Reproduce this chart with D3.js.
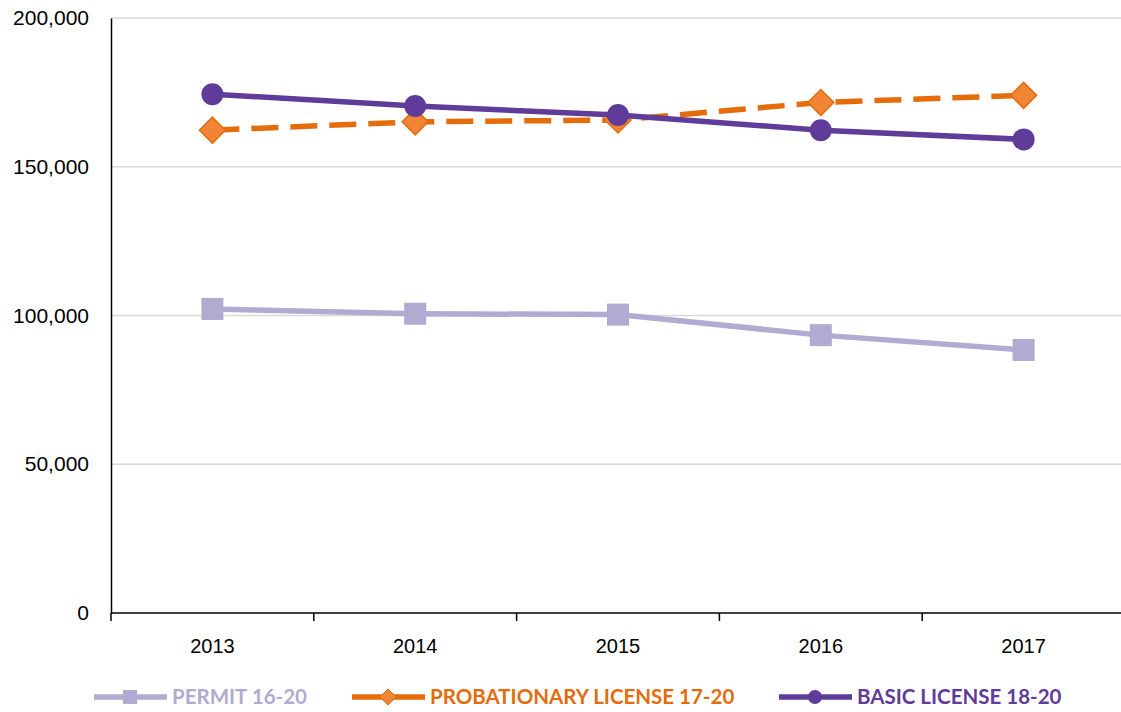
<!DOCTYPE html>
<html>
<head>
<meta charset="utf-8">
<script src="https://cdn.jsdelivr.net/npm/d3@7"></script>
<style>
  body { margin: 0; background: #fff; }
  svg { display: block; font-family: Lato, "Open Sans", sans-serif; }
</style>
</head>
<body>
<div id="chart"></div>
<script>
var years = ["2013", "2014", "2015", "2016", "2017"];
var permit = [102200, 100600, 100300, 93400, 88400];
var probationary = [162300, 165100, 165700, 171600, 174000];
var basic = [174400, 170400, 167400, 162300, 159200];
var yTicks = [0, 50000, 100000, 150000, 200000];

var width = 1121, height = 712;
var margin = { top: 18, right: -4, bottom: 99, left: 111 };

var svg = d3.select("#chart")
    .append("svg")
    .attr("width", width)
    .attr("height", height);

var x = d3.scaleBand()
    .domain(years)
    .range([margin.left, width - margin.right]);

var y = d3.scaleLinear()
    .domain([0, 200000])
    .range([height - margin.bottom, margin.top]);

var fmt = d3.format(",");

// gridlines
svg.append("g")
    .selectAll("line")
    .data(yTicks.filter(function (d) { return d > 0; }))
    .enter()
    .append("line")
    .attr("x1", margin.left)
    .attr("x2", width)
    .attr("y1", function (d) { return y(d); })
    .attr("y2", function (d) { return y(d); })
    .style("stroke", "#d9d9d9")
    .style("stroke-width", 1.5);

// y axis
var yaxis = svg.append("g")
    .attr("transform", "translate(" + margin.left + ",0)")
    .call(d3.axisLeft(y).tickValues(yTicks).tickFormat(fmt).tickSize(0).tickPadding(22));
yaxis.select(".domain").style("stroke", "#000").style("stroke-width", 1.5);
yaxis.selectAll("text").style("font-size", "21px").style("fill", "#000");

// x axis
var xaxis = svg.append("g")
    .attr("transform", "translate(0," + y(0) + ")")
    .call(d3.axisBottom(x).tickSize(0).tickPadding(26));
xaxis.select(".domain").attr("d", "M" + margin.left + ",0H" + width)
    .style("stroke", "#000").style("stroke-width", 1.5);
xaxis.selectAll("text").style("font-size", "20px").style("fill", "#000");
// tick marks at band boundaries
xaxis.selectAll(".bound")
    .data(years)
    .enter()
    .append("line")
    .attr("class", "bound")
    .attr("x1", function (d) { return x(d); })
    .attr("x2", function (d) { return x(d); })
    .attr("y1", 0)
    .attr("y2", 8)
    .style("stroke", "#000")
    .style("stroke-width", 1.5);

var cx = function (i) { return x(years[i]) + x.bandwidth() / 2; };

var line = d3.line()
    .x(function (d, i) { return cx(i); })
    .y(function (d) { return y(d); });

// permit series
svg.append("path")
    .datum(permit)
    .attr("d", line)
    .style("fill", "none")
    .style("stroke", "#b1aad1")
    .style("stroke-width", 5.5);
svg.append("g").selectAll("rect")
    .data(permit)
    .enter()
    .append("rect")
    .attr("x", function (d, i) { return cx(i) - 11; })
    .attr("y", function (d) { return y(d) - 11; })
    .attr("width", 22)
    .attr("height", 22)
    .style("fill", "#b1aad1");

// probationary series
svg.append("path")
    .datum(probationary)
    .attr("d", line)
    .style("fill", "none")
    .style("stroke", "#e46c0a")
    .style("stroke-width", 5.5)
    .style("stroke-dasharray", "27,12");
svg.append("g").selectAll("path")
    .data(probationary)
    .enter()
    .append("path")
    .attr("d", "M0,-13L13,0L0,13L-13,0Z")
    .attr("transform", function (d, i) { return "translate(" + cx(i) + "," + y(d) + ")"; })
    .style("fill", "#ef8535")
    .style("stroke", "#e46c0a")
    .style("stroke-width", 1.5);

// basic series
svg.append("path")
    .datum(basic)
    .attr("d", line)
    .style("fill", "none")
    .style("stroke", "#5f3b9a")
    .style("stroke-width", 5.5);
svg.append("g").selectAll("circle")
    .data(basic)
    .enter()
    .append("circle")
    .attr("cx", function (d, i) { return cx(i); })
    .attr("cy", function (d) { return y(d); })
    .attr("r", 11)
    .style("fill", "#5f3b9a");

// legend
var legendItems = [
    { name: "PERMIT 16-20", color: "#b1aad1", x: 94, shape: "square" },
    { name: "PROBATIONARY LICENSE 17-20", color: "#e46c0a", x: 352, shape: "diamond" },
    { name: "BASIC LICENSE 18-20", color: "#5f3b9a", x: 779, shape: "circle" }
];
var legY = 697;
var leg = svg.append("g").selectAll("g")
    .data(legendItems)
    .enter()
    .append("g")
    .attr("transform", function (d) { return "translate(" + d.x + "," + legY + ")"; });
leg.append("line")
    .attr("x1", 0).attr("x2", 73)
    .attr("y1", 0).attr("y2", 0)
    .style("stroke", function (d) { return d.color; })
    .style("stroke-width", 5.5);
leg.each(function (d) {
    var g = d3.select(this);
    if (d.shape == "square") {
        g.append("rect").attr("x", 29).attr("y", -7).attr("width", 14).attr("height", 14).style("fill", d.color);
    } else if (d.shape == "diamond") {
        g.append("path").attr("d", "M36,-8L44,0L36,8L28,0Z")
            .style("fill", "#ef8535").style("stroke", d.color).style("stroke-width", 1);
    } else {
        g.append("circle").attr("cx", 36).attr("cy", 0).attr("r", 7).style("fill", d.color);
    }
});
leg.append("text")
    .attr("x", 78)
    .attr("y", 0)
    .attr("dy", "0.35em")
    .style("font-size", "20.5px")
    .style("font-weight", "bold")
    .style("fill", function (d) { return d.color; })
    .text(function (d) { return d.name; });
</script>
</body>
</html>
